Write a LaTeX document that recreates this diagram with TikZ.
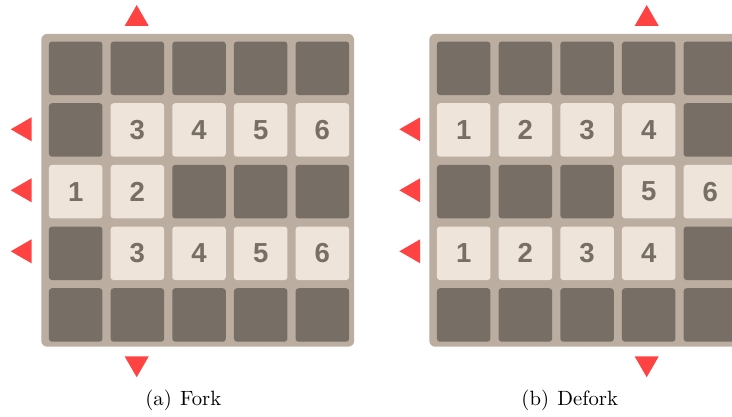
\documentclass[tikz,border=0pt]{standalone}
\usepackage{fontspec}
\usepackage{tikz}
\usetikzlibrary{positioning,shapes.geometric}
\newfontfamily\tilefont{Liberation Sans}
\newfontfamily\captfont{lmroman10-regular.otf}
\definecolor{boardc}{HTML}{BBADA0}
\definecolor{wallc}{HTML}{776E65}
\definecolor{tilec}{HTML}{EEE4DA}
\definecolor{gatec}{RGB}{255,66,66}
\tikzset{
  board/.style={rectangle,fill=boardc,rounded corners=3.6pt,minimum width=187.7pt,minimum height=187.7pt,inner sep=0pt},
  wall/.style={rectangle,fill=wallc,rounded corners=1.8pt,minimum size=32.1pt,inner sep=0pt},
  tile/.style={wall,fill=tilec,text=wallc,font=\tilefont\bfseries\fontsize{16.5}{16.5}\selectfont},
  % red in/out triangles; a polygon node sits on its circumcentre, not on the middle of its box
  gate/.style={regular polygon,regular polygon sides=3,fill=gatec,minimum size=16.6pt,inner sep=0pt,outer sep=0pt},
  gateu/.style={gate},
  gated/.style={gate,shape border rotate=180},
  gatel/.style={gate,shape border rotate=90},
  capt/.style={anchor=base,inner sep=0pt,font=\captfont\fontsize{12.4}{14}\selectfont},
}

\begin{document}
\begin{tikzpicture}[x=0.6pt,y=-0.6pt,node distance=4.5pt]
  \useasboundingbox (0,0) rectangle (732,416);
  \clip (0,0) rectangle (732,416);
  % (a) fork
  \node[board] (A) at (197.7,190.3) {};
  \node[wall] (a11) at (75.7,68.3) {};
  \node[wall,right=of a11] (a12) {}; \node[wall,right=of a12] (a13) {};
  \node[wall,right=of a13] (a14) {}; \node[wall,right=of a14] (a15) {};
  \node[wall,below=of a11] (a21) {}; \node[tile,right=of a21] (a22) {3};
  \node[tile,right=of a22] (a23) {4}; \node[tile,right=of a23] (a24) {5};
  \node[tile,right=of a24] (a25) {6};
  \node[tile,below=of a21] (a31) {1}; \node[tile,right=of a31] (a32) {2};
  \node[wall,right=of a32] (a33) {}; \node[wall,right=of a33] (a34) {};
  \node[wall,right=of a34] (a35) {};
  \node[wall,below=of a31] (a41) {}; \node[tile,right=of a41] (a42) {3};
  \node[tile,right=of a42] (a43) {4}; \node[tile,right=of a43] (a44) {5};
  \node[tile,right=of a44] (a45) {6};
  \node[wall,below=of a41] (a51) {}; \node[wall,right=of a51] (a52) {};
  \node[wall,right=of a52] (a53) {}; \node[wall,right=of a53] (a54) {};
  \node[wall,right=of a54] (a55) {};
  \node[gateu] (au) at (136.7,18.9) {};
  \node[gated] (ad) at (136.7,363.4) {};
  \node[gatel] (al2) at (24.6,129.3) {};
  \node[gatel] (al3) at (24.6,190.3) {};
  \node[gatel] (al4) at (24.6,251.3) {};
  \node[capt] (ca) at (183.3,405.8) {(a)\hspace{0.4em}Fork};
  % (b) defork
  \node[board] (B) at (585.7,190.3) {};
  \node[wall] (b11) at (463.7,68.3) {};
  \node[wall,right=of b11] (b12) {}; \node[wall,right=of b12] (b13) {};
  \node[wall,right=of b13] (b14) {}; \node[wall,right=of b14] (b15) {};
  \node[tile,below=of b11] (b21) {1}; \node[tile,right=of b21] (b22) {2};
  \node[tile,right=of b22] (b23) {3}; \node[tile,right=of b23] (b24) {4};
  \node[wall,right=of b24] (b25) {};
  \node[wall,below=of b21] (b31) {}; \node[wall,right=of b31] (b32) {};
  \node[wall,right=of b32] (b33) {}; \node[tile,right=of b33] (b34) {5};
  \node[tile,right=of b34] (b35) {6};
  \node[tile,below=of b31] (b41) {1}; \node[tile,right=of b41] (b42) {2};
  \node[tile,right=of b42] (b43) {3}; \node[tile,right=of b43] (b44) {4};
  \node[wall,right=of b44] (b45) {};
  \node[wall,below=of b41] (b51) {}; \node[wall,right=of b51] (b52) {};
  \node[wall,right=of b52] (b53) {}; \node[wall,right=of b53] (b54) {};
  \node[wall,right=of b54] (b55) {};
  \node[gateu] (bu) at (646.7,18.9) {};
  \node[gated] (bd) at (646.7,363.4) {};
  \node[gatel] (bl2) at (413.2,129.3) {};
  \node[gatel] (bl3) at (413.2,190.3) {};
  \node[gatel] (bl4) at (413.2,251.3) {};
  \node[capt] (cb) at (569.7,405.8) {(b)\hspace{0.4em}Defork};
\end{tikzpicture}
\end{document}
